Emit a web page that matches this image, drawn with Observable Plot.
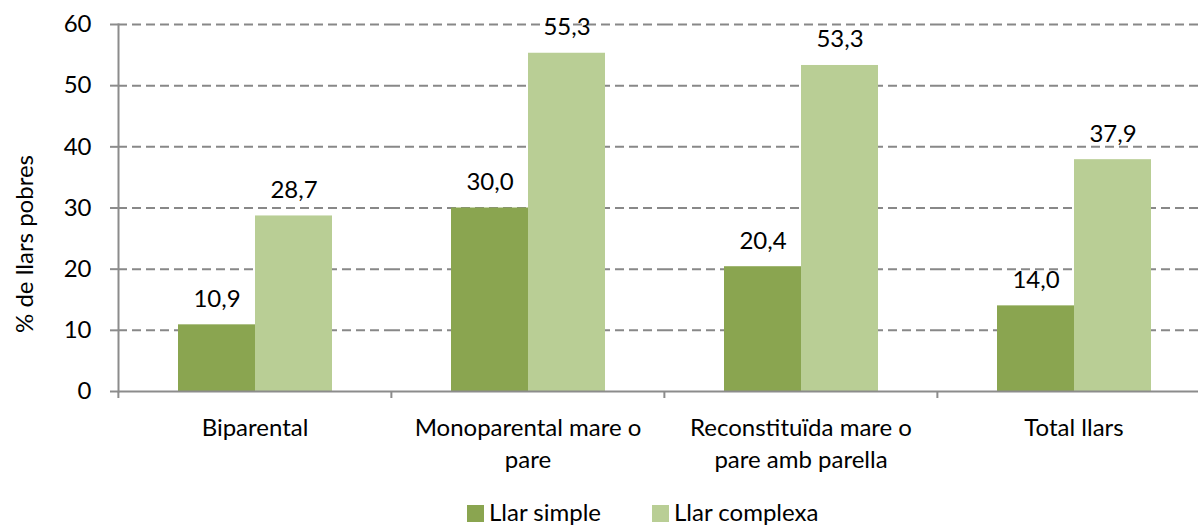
<!DOCTYPE html>
<html>
<head>
<meta charset="utf-8">
<script src="https://cdn.jsdelivr.net/npm/d3@7"></script>
<script src="https://cdn.jsdelivr.net/npm/@observablehq/plot@0.6"></script>
<style>
  html, body { margin: 0; padding: 0; background: #fff; }
  body { width: 1198px; height: 525px; overflow: hidden; position: relative; font-family: Lato, sans-serif; }
  #legend { position: absolute; left: 0; top: 490px; height: 35px; width: 1198px; }
  .item { position: absolute; top: 10px; height: 24px; line-height: 24px; font-size: 24px; color: #000; white-space: nowrap; }
  .sw { display: inline-block; width: 17px; height: 17px; vertical-align: top; margin-top: 5px; margin-right: 5px; }
</style>
</head>
<body>
<div id="chart"></div>
<div id="legend"></div>
<script>
const categories = ["Biparental", "Monoparental mare o pare", "Reconstituïda mare o pare amb parella", "Total llars"];
const categoryLabels = ["Biparental", "Monoparental mare o\npare", "Reconstituïda mare o\npare amb parella", "Total llars"];
const series = ["Llar simple", "Llar complexa"];
const simpleValues = [10.9, 30.0, 20.4, 14.0];
const complexValues = [28.7, 55.3, 53.3, 37.9];
const yTicks = [0, 10, 20, 30, 40, 50, 60];
const colors = ["#8aa550", "#b9ce95"];
const yLabel = "% de llars pobres";

const data = categories.flatMap((c, i) => [
  {cat: c, series: series[0], value: simpleValues[i]},
  {cat: c, series: series[1], value: complexValues[i]}
]);

const W = 1198, H = 490, ML = 117, MR = -12;
const STEP = (W - ML - MR) / categories.length;
const fmt = v => v.toFixed(1).replace(".", ",");
const gray = "#8c8c8c";

const plot = Plot.plot({
  width: W, height: H,
  marginLeft: ML, marginRight: MR, marginTop: 24, marginBottom: 99,
  style: {fontFamily: "Lato, sans-serif", fontSize: "24px", color: "#000", background: "#fff", overflow: "visible"},
  fx: {domain: categories, padding: 0, axis: null, label: null},
  x: {domain: series, paddingInner: 0, paddingOuter: 0.752, axis: null},
  y: {domain: [0, 60], axis: null},
  color: {domain: series, range: colors},
  marks: [
    Plot.gridY(yTicks.filter(d => d > 0), {stroke: "#888888", strokeOpacity: 1, strokeWidth: 2, strokeDasharray: "9,5"}),
    Plot.barY(data, {fx: "cat", x: "series", y: "value", fill: "series"}),
    Plot.ruleY([0], {stroke: gray, strokeWidth: 2}),
    Plot.frame({anchor: "left", facetAnchor: "left", stroke: gray, strokeWidth: 2}),
    Plot.axisY(yTicks, {tickSize: 8, tickPadding: 19, label: null, stroke: gray, strokeWidth: 2, fill: "#000", fontSize: 24}),
    Plot.axisFx({anchor: "bottom", tickSize: 7, tickFormat: () => "", label: null, dx: -STEP / 2, stroke: gray, strokeWidth: 2}),
    Plot.axisFx({anchor: "bottom", tickSize: 0, tickPadding: 21, label: null, lineHeight: 1.36,
      tickFormat: d => categoryLabels[categories.indexOf(d)], fill: "#000", fontSize: 24}),
    Plot.text(data, {fx: "cat", x: "series", y: "value", text: d => fmt(d.value), lineAnchor: "bottom", dy: -18, fill: "#000", fontSize: 24}),
    Plot.text([yLabel], {frameAnchor: "left", textAnchor: "middle", rotate: -90, dx: -93, dy: 36, facetAnchor: "left", fill: "#000", fontSize: 24})
  ]
});
document.getElementById("chart").appendChild(plot);

const legend = document.getElementById("legend");
const legendLeft = [467, 652];
series.forEach((s, i) => {
  const it = document.createElement("div");
  it.className = "item";
  it.style.left = legendLeft[i] + "px";
  it.innerHTML = `<span class="sw" style="background:${colors[i]}"></span>${s}`;
  legend.appendChild(it);
});
</script>
</body>
</html>
